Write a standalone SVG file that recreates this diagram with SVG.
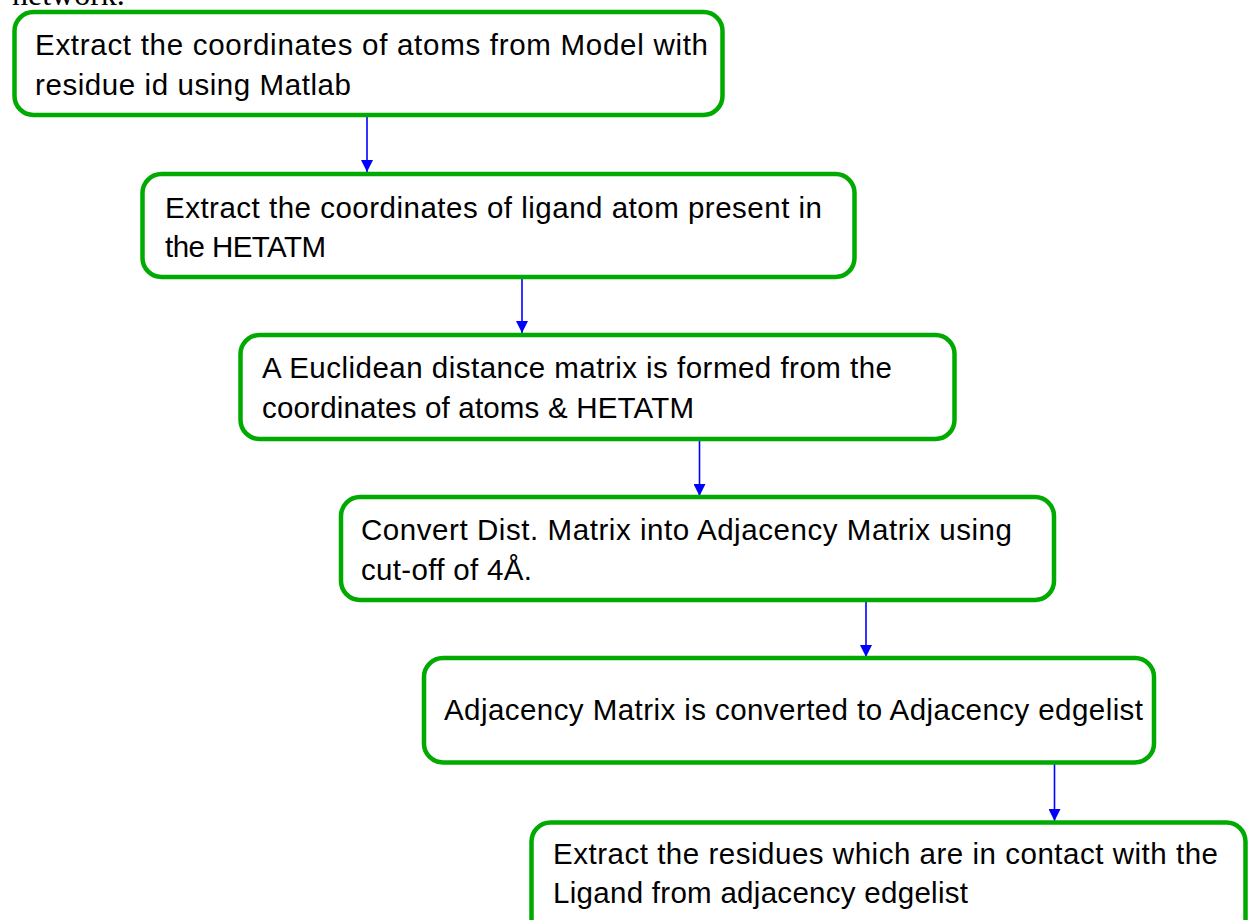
<svg xmlns="http://www.w3.org/2000/svg" width="1248" height="920" viewBox="0 0 1248 920">
<style>
.box{fill:#fff;stroke:#00aa00;stroke-width:4.5}
.t{font-family:"Liberation Sans",Arial,sans-serif;font-size:29.5px;fill:#000}
.cap{font-family:"Liberation Serif","Times New Roman",serif;font-size:32px;fill:#000}
.c{stroke:#0000ff;stroke-width:1.6;fill:none}
</style>
<defs>
<marker id="ah" markerWidth="12" markerHeight="12" refX="12" refY="6" orient="auto" markerUnits="userSpaceOnUse">
<path d="M0,0 L12,6 L0,12 Z" fill="#0000ff"/>
</marker>
</defs>
<rect width="1248" height="920" fill="#fff"/>
<text class="cap" x="12" y="5">network.</text>
<g id="connectors">
<line class="c" x1="367" y1="116" x2="367" y2="172" marker-end="url(#ah)"/>
<line class="c" x1="522" y1="279" x2="522" y2="333" marker-end="url(#ah)"/>
<line class="c" x1="699.5" y1="441" x2="699.5" y2="496" marker-end="url(#ah)"/>
<line class="c" x1="866" y1="602" x2="866" y2="657" marker-end="url(#ah)"/>
<line class="c" x1="1054.5" y1="764" x2="1054.5" y2="821" marker-end="url(#ah)"/>
</g>
<g id="n1">
<rect class="box" x="14.5" y="12" width="708" height="103" rx="19"/>
<text class="t" x="35" y="55" textLength="673">Extract the coordinates of atoms from Model with</text>
<text class="t" x="35" y="95" textLength="316">residue id using Matlab</text>
</g>
<g id="n2">
<rect class="box" x="142.5" y="174" width="712" height="103" rx="19"/>
<text class="t" x="165" y="218" textLength="657">Extract the coordinates of ligand atom present in</text>
<text class="t" x="165" y="257" textLength="161">the HETATM</text>
</g>
<g id="n3">
<rect class="box" x="240.5" y="335" width="714" height="104" rx="19"/>
<text class="t" x="262" y="378" textLength="630">A Euclidean distance matrix is formed  from the</text>
<text class="t" x="262" y="418" textLength="432">coordinates of atoms &amp; HETATM</text>
</g>
<g id="n4">
<rect class="box" x="341" y="497" width="713" height="103" rx="19"/>
<text class="t" x="361" y="540" textLength="651">Convert Dist. Matrix into Adjacency Matrix using</text>
<text class="t" x="361" y="580" textLength="171">cut-off of 4Å.</text>
</g>
<g id="n5">
<rect class="box" x="424" y="658" width="730" height="104.5" rx="19"/>
<text class="t" x="444" y="720" textLength="699">Adjacency Matrix is converted to Adjacency edgelist</text>
</g>
<g id="n6">
<rect class="box" x="531.5" y="822.5" width="714" height="120" rx="19"/>
<text class="t" x="553" y="864" textLength="665">Extract the residues which are in contact with the</text>
<text class="t" x="553" y="903" textLength="415">Ligand from adjacency edgelist</text>
</g>
</svg>
